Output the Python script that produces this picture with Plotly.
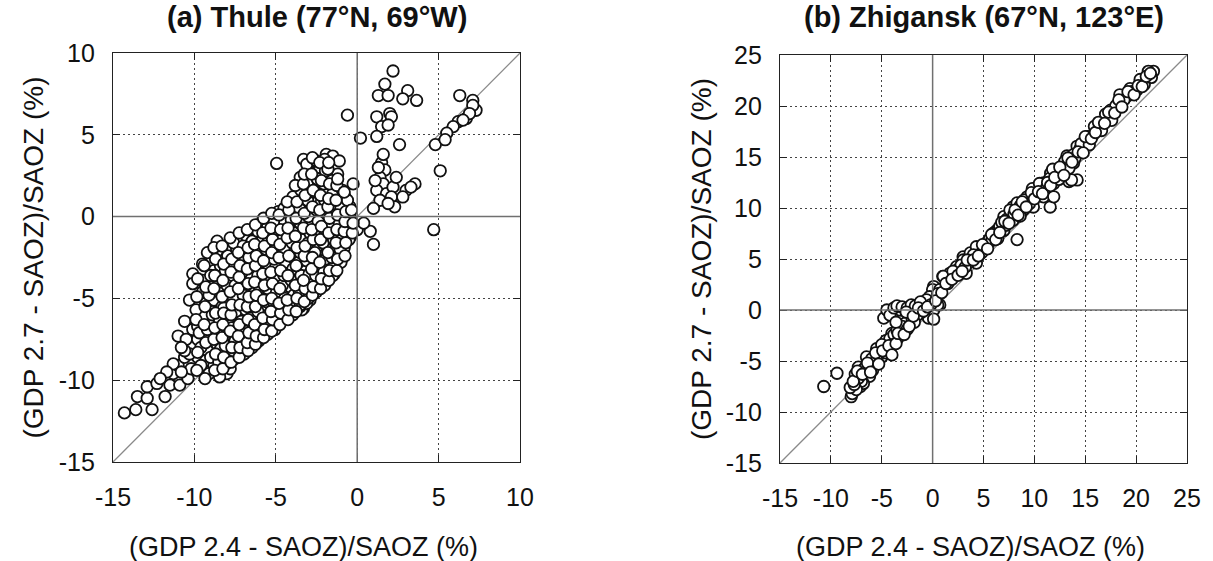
import plotly.graph_objects as go

# ---------------- data ----------------
thule_x = [
    -14.3, -13.6, -12.6, -13.5, -12.9, -12.9, -12.3, -11.8, -11.5, -11.3,
    -10.9, -11.0, -10.6, -10.4, -10.2, -11.0, -10.5, -9.8, -10.1, -10.3,
    -10.1, -9.5, -9.8, -9.2, -9.3, -8.8, -8.0, -7.8, -8.2, -9.1,
    -9.8, -9.5, -8.9, -9.9, -9.3, -8.8, -8.0, -8.5, -7.8, -7.2,
    -7.0, -7.8, -7.2, -6.6, -6.6, -6.0, -5.0, -5.7, -5.4, -4.8,
    -4.4, -3.6, -3.3, -3.1, -2.7, -3.8, -4.2, -5.4, -6.2, -6.8,
    -8.0, -8.8, -9.5, -10.1, -7.6, -7.4, -8.4, -8.9, -9.6, -8.6,
    -10.3, -11.3, -11.7, -12.1, -8.6, -6.8, -6.2, -5.8, -5.2, -4.6,
    -5.8, -6.5, -5.4, -4.5, -3.7, -2.9, -2.1, -1.3, -0.65, -1.9,
    -1.1, -7.4, -5.8, -4.7, -3.7, -2.5, -1.3, -1.5, -2.3, -3.3,
    -4.3, -5.6, -6.6, -7.2, -6.2, -5.15, -4.1, -3.0, -2.3, -2.9,
    -3.4, -4.95, -5.8, -6.8, -7.4, -6.2, -7.6,
    -4.95, -3.7, -2.7, -2.9, -1.8, -1.9, -1.2, -0.75, -0.25, -0.45,
    -2.9, -3.9, -4.85, -1.7, -2.2, -3.3, -1.9, -1.5, -1.1, -2.3,
    -3.0, -0.6, 0.2, -1.0, -0.8, -0.4, -1.4, -3.5, -3.1,
    2.2, 1.7, 1.3, 1.9, 3.1, 2.8, 3.65, 1.2, 2.0, 2.1,
    1.5, 1.9, 1.2, 2.6, 6.3, 7.1, 7.3, 6.7, 6.2, 5.9,
    5.5, 4.8, 5.4, 5.1, 4.7, 7.1, 6.9, 6.5, 1.5, 1.7,
    1.4, 1.6, 1.2, 1.8, 2.2, 2.4, 2.1, 1.4, 3.0, 3.55,
    3.3, 2.8, 2.3, 1.6, 1.3, 1.1, 1.0, 1.9, 0.0, 0.8,
    1.0, 0.4,
    -9.6, -9.7, -9.5,
    -9.1, -9.0, -9.2, -8.9, -9.1, -9.0, -9.2,
    -8.45, -8.5, -8.4, -8.6, -8.45, -8.3, -8.5, -8.4, -8.6,
    -8.05, -8.1, -7.9, -8.0, -8.2, -8.0, -8.1, -7.95,
    -7.55, -7.6, -7.5, -7.7, -7.45, -7.6, -7.5, -7.55, -7.4, -7.6,
    -6.95, -7.0, -6.9, -7.1, -6.85, -7.0, -6.95, -7.05, -6.9, -7.0,
    -6.45, -6.5, -6.4, -6.55, -6.45, -6.3, -6.5, -6.4, -6.6, -6.45,
    -6.05, -6.0, -6.1, -5.95, -6.05, -6.1, -5.9, -6.0, -6.1,
    -5.5, -5.55, -5.45, -5.6, -5.5, -5.4, -5.5, -5.6, -5.45, -5.5,
    -5.05, -5.0, -5.1, -4.95, -5.05, -5.0, -5.1, -4.95, -5.0, -5.1,
    -4.5, -4.55, -4.45, -4.6, -4.5, -4.4, -4.5, -4.6, -4.45, -4.5,
    -3.95, -4.0, -3.9, -4.05, -3.95, -3.85, -4.0, -3.9, -4.05, -3.95,
    -3.5, -3.55, -3.45, -3.6, -3.5, -3.4, -3.5, -3.55, -3.45, -3.5,
    -3.0, -3.05, -2.95, -3.1, -3.0, -2.9, -3.0, -3.05, -2.95, -3.0, -3.1,
    -2.5, -2.55, -2.45, -2.6, -2.5, -2.4, -2.5, -2.55, -2.45, -2.5,
    -2.0, -2.05, -1.95, -2.1, -2.0, -1.9, -2.0, -2.05, -1.95, -2.0,
    -1.5, -1.55, -1.45, -1.6, -1.5, -1.4, -1.5, -1.55,
    -1.0, -1.05, -0.95, -1.1, -1.0, -0.9,
    -0.5, -0.55, -0.45, -0.6,
    -10.6, -10.6, -10.8, -10.8,
    -9.85, -9.8, -9.9, -9.85, -9.8,
    -9.35, -9.3, -9.4, -9.35, -9.3, -9.4,
    -8.75, -8.7, -8.8, -8.75, -8.7, -8.8, -8.75, -8.7, -8.8,
    -8.25, -8.2, -8.3, -8.25, -8.2, -8.3, -8.25, -8.2, -8.3,
    -7.75, -7.7, -7.8, -7.75, -7.7, -7.8, -7.75, -7.7, -7.8,
    -7.25, -7.2, -7.3, -7.25, -7.2, -7.3, -7.25, -7.2, -7.3, -7.25,
    -6.7, -6.75, -6.65, -6.7, -6.75, -6.65, -6.7, -6.75, -6.65, -6.7, -6.75,
    -6.25, -6.2, -6.3, -6.25, -6.2, -6.3, -6.25, -6.2, -6.3, -6.25,
    -5.75, -5.7, -5.8, -5.75, -5.7, -5.8, -5.75, -5.7, -5.8, -5.75,
    -5.25, -5.2, -5.3, -5.25, -5.2, -5.3, -5.25, -5.2, -5.3, -5.25,
    -4.75, -4.7, -4.8, -4.75, -4.7, -4.8, -4.75, -4.7, -4.8,
    -4.25, -4.2, -4.3, -4.25, -4.2, -4.3, -4.25, -4.2, -4.3,
    -3.75, -3.7, -3.8, -3.75, -3.7, -3.8, -3.75, -3.7, -3.8,
    -3.25, -3.2, -3.3, -3.25, -3.2, -3.3, -3.25, -3.2, -3.3, -3.25,
    -2.75, -2.7, -2.8, -2.75, -2.7, -2.8, -2.75, -2.7, -2.8, -2.75,
    -2.25, -2.2, -2.3, -2.25, -2.2, -2.3, -2.25, -2.2, -2.3,
    -1.75, -1.7, -1.8, -1.75, -1.7, -1.8, -1.75, -1.7, -1.8, -1.75,
    -1.25, -1.2, -1.3, -1.25, -1.2, -1.3, -1.25, -1.2,
    -0.75, -0.7, -0.8, -0.75, -0.7, -0.8,
    -0.3, -0.25, -0.35,
]
thule_y = [
    -12.0, -11.8, -11.8, -11.0, -11.1, -10.4, -10.2, -11.0, -10.3, -9.6,
    -10.3, -9.1, -8.6, -9.9, -9.3, -7.3, -7.5, -7.5, -6.9, -5.1,
    -3.5, -2.9, -8.6, -8.2, -8.8, -9.1, -9.6, -9.3, -8.4, -7.4,
    -6.7, -6.1, -5.8, -5.7, -5.3, -5.1, -5.1, -4.6, -4.5, -4.7,
    -5.3, -6.3, -6.1, -5.9, -6.7, -6.3, -6.4, -5.6, -4.7, -4.1,
    -4.7, -5.1, -5.6, -4.3, -3.7, -3.9, -3.3, -3.2, -3.3, -2.9,
    -2.7, -3.3, -3.9, -4.1, -3.7, -7.3, -6.9, -6.5, -8.0, -7.8,
    -8.4, -9.0, -9.5, -9.9, -1.5, -1.2, -2.0, -0.8, -0.4, 0.0,
    -0.2, -1.6, -1.2, -0.6, -0.9, -0.6, -0.5, -0.35, -0.15, -1.1,
    -1.2, -2.65, -2.45, -2.2, -2.0, -1.9, -1.8, -3.1, -3.3, -3.3,
    -3.1, -3.3, -3.5, -3.9, -4.3, -4.5, -4.3, -3.8, -3.9, -5.1,
    -5.7, -6.3, -5.7, -5.5, -6.7, -7.1, -7.7,
    3.25, 0.8, 1.2, 1.9, 1.7, 2.5, 2.6, 1.2, 2.0, 0.6,
    0.4, 0.4, 0.3, 0.4, 0.9, 3.5, 3.8, 3.7, 3.4, 3.0,
    2.8, 6.2, 4.8, -2.7, -1.9, -1.2, -3.5, -5.5, -5.3,
    8.9, 8.1, 7.4, 7.4, 7.7, 7.2, 7.1, 6.1, 6.3, 6.1,
    5.5, 5.6, 4.9, 4.4, 7.4, 7.1, 6.5, 6.0, 5.8, 5.5,
    5.1, 4.4, 4.7, 2.8, -0.8, 6.8, 6.3, 5.9, 3.3, 2.85,
    2.4, 2.0, 1.6, 1.4, 1.8, 2.4, 1.2, 1.0, 1.6, 2.0,
    1.8, 1.2, 0.6, 3.8, 3.0, 2.2, 0.5, 0.8, -0.8, -0.9,
    -1.7, -0.4,
    -9.1, -7.1, -4.6,
    -9.6, -8.6, -6.9, -6.0, -4.8, -3.6, -2.2,
    -9.8, -8.9, -8.1, -7.2, -6.4, -5.5, -4.0, -3.0, -2.1,
    -9.0, -7.9, -7.0, -6.0, -5.6, -4.2, -3.3, -2.4,
    -8.7, -8.2, -7.6, -6.8, -5.8, -5.0, -4.2, -3.0, -2.0, -1.6,
    -8.4, -7.6, -7.0, -6.4, -5.7, -4.8, -4.0, -3.4, -2.6, -1.8,
    -8.0, -7.4, -6.9, -6.2, -5.2, -4.6, -3.8, -2.9, -2.2, -1.5,
    -7.6, -7.0, -5.8, -5.0, -4.2, -3.6, -2.8, -1.9, -0.9,
    -7.2, -6.6, -6.0, -5.2, -4.4, -3.8, -2.9, -2.0, -1.5, -0.6,
    -6.9, -6.0, -5.4, -4.6, -3.9, -3.0, -2.6, -1.8, -1.0, -0.3,
    -6.2, -5.6, -5.0, -4.2, -3.6, -2.8, -2.0, -1.4, -0.4, 0.5,
    -6.0, -5.4, -4.8, -3.9, -3.2, -2.6, -1.6, -1.0, -0.2, 1.2,
    -5.4, -4.6, -3.6, -2.8, -2.2, -1.4, -0.4, 0.5, 1.6, 2.4,
    -5.0, -4.4, -3.5, -2.7, -1.6, -1.0, 0.0, 1.0, 1.5, 2.2, 3.2,
    -4.6, -3.6, -3.0, -2.2, -1.2, -0.3, 0.4, 1.5, 2.3, 3.4,
    -4.2, -3.4, -2.6, -1.6, -0.8, 0.2, 1.0, 2.0, 2.8, 3.5,
    -3.6, -2.5, -1.4, -0.6, 0.2, 0.8, 1.4, 2.2,
    -2.8, -2.0, -1.0, -0.4, 0.6, 1.6,
    -1.4, -0.6, 0.0, 1.0,
    -8.2, -6.4, -9.5, -8.0,
    -9.4, -8.3, -6.3, -4.9, -3.8,
    -9.9, -7.7, -6.6, -5.5, -4.3, -3.0,
    -9.4, -8.4, -7.5, -6.8, -5.9, -4.4, -3.6, -2.6, -1.9,
    -9.3, -8.6, -7.4, -6.6, -5.9, -4.9, -3.9, -2.9, -1.8,
    -8.9, -8.0, -7.0, -6.0, -5.4, -4.6, -3.4, -2.6, -1.3,
    -8.6, -8.0, -7.3, -6.6, -5.4, -4.4, -3.7, -3.0, -2.2, -1.0,
    -8.2, -7.7, -7.1, -6.3, -5.5, -4.9, -4.1, -3.2, -2.5, -1.9, -0.8,
    -7.8, -7.3, -6.6, -5.5, -4.8, -4.0, -3.0, -2.4, -1.7, -0.5,
    -7.4, -6.9, -6.2, -5.1, -4.2, -3.5, -2.7, -1.8, -1.0, -0.1,
    -7.0, -6.3, -5.8, -5.0, -4.1, -3.4, -2.2, -1.4, -0.7, 0.2,
    -6.6, -5.9, -5.3, -4.4, -3.3, -2.5, -1.7, -0.8, 0.1,
    -6.3, -5.7, -5.1, -3.6, -2.4, -1.3, -0.7, 0.4, 0.9,
    -5.8, -5.0, -4.2, -3.0, -1.9, -1.2, -0.1, 0.9, 1.9,
    -5.2, -4.4, -3.9, -2.4, -1.8, -0.7, 0.2, 1.3, 2.0, 2.6,
    -4.8, -4.3, -3.2, -2.5, -1.4, -0.8, 0.6, 1.6, 2.6, 3.6,
    -4.4, -3.8, -2.8, -1.4, -0.6, 0.4, 1.3, 2.2, 3.3,
    -3.9, -3.3, -2.2, -1.0, -0.1, 0.6, 1.1, 2.0, 2.9, 3.3,
    -3.3, -2.6, -1.6, -0.8, 0.1, 1.0, 1.9, 2.3,
    -2.4, -1.6, -0.9, -0.3, 0.3, 1.5,
    -1.0, -0.4, 0.4,
]

zhig_x = [
    -10.7, -9.4, -8.0, -7.9, -7.1, -7.3, -6.5, -5.5, -5.2, -4.5,
    -4.0, -3.5, -3.2, -2.7, -4.8, -4.2, -3.2, -2.2, -0.9, 0.1,
    0.7, -0.4, 0.1, 1.0, 1.7, 2.35, 3.0, -2.9, -6.2, -6.8,
    -7.6, -7.0, -6.8, -6.3, -6.0, -5.7, -5.4, -5.0, -4.8, -4.6,
    -4.4, -4.2, -3.8, -3.5, -3.0, -2.5, -4.5, -4.2, -3.8, -3.5,
    -3.0, -2.5, -2.1, -1.7, -1.2, -0.7, 0.1, 0.1, 0.5, 0.0,
    -0.3, -1.5, -2.0, -5.9, -7.5, -3.9,
    -0.6, 0.7, 1.05, 2.4, 3.0, 3.7, 4.65, 6.0, 7.0, 7.9,
    8.3, 8.9, 9.9, 10.9, 11.55, 11.9, 12.5, 13.85, 14.2, 14.7,
    6.3, 3.3, 4.3, 7.9, 7.0, 9.6, 10.6,
    2.05, 2.7, 3.0, 3.7, 3.5, 4.3, 5.3, 6.0, 6.6, 7.3,
    7.6, 8.3, 8.6, 9.3, 10.25, 10.9, 11.6, 11.9, 13.4, 13.2,
    14.2, 15.2, 16.15, 17.1, 17.5, 18.4, 19.1, 20.1, 20.4, 21.2,
    21.7,
    21.2, 20.4, 19.4, 18.4, 18.1, 17.1, 16.4, 15.8, 15.1, 14.5,
    13.8, 12.8, 12.1, 11.5, 10.8, 9.8, 13.65,
    4.8, 5.6, 6.4, 7.2, 8.0, 8.6, 9.0, 9.5, 10.2, 10.5,
    11.2, 11.8, 12.4, 13.0, 13.4, 14.0, 14.6, 15.4, 15.9, 16.6,
    17.0, 17.6, 18.0, 18.8, 19.6, 20.8, 21.5, 5.0, 5.8, 6.8,
    2.8, 1.5, 2.0, 4.0, 3.2, 0.5, -0.2, -1.2, -2.6, -3.6,
    -5.0, -6.0, -6.6, -7.3, -5.5, -4.6, -3.3, -1.8, -8.1, -7.7,
    -7.8, -7.4, -6.9, -6.4, -6.1, -5.6, -5.3, -4.9, -4.3, -4.0,
    -3.6, -3.4, -2.8, -2.3, -1.9, -1.4, -0.9, -0.5, 0.3, 0.9,
    1.3, 1.9, 2.5, 2.9, 3.4, 4.0, 4.5, 4.9, 5.4, 5.8,
    6.2, 6.6, 7.1, 7.5, 8.1, 8.4, 8.8, 9.2, 9.7, 10.0,
    10.4, 10.8, 11.3, 11.6, 12.0, 12.5, 12.9, 13.3, 13.7, 14.3,
    14.8, 15.0, 15.6, 16.0, 16.3, 16.9, 17.3, 17.9, 18.3, 18.6,
    19.2, 19.8, 20.2, 20.6, 21.0, 21.4,
]
zhig_y = [
    -7.5, -6.2, -8.5, -8.2, -7.5, -5.6, -4.6, -3.8, -4.8, -3.3,
    -2.3, -2.9, -1.8, -1.3, -0.8, -0.2, 0.0, 0.0, 0.5, 1.0,
    0.5, -0.8, 2.3, 3.3, 3.6, 4.25, 5.2, -2.0, -6.5, -7.2,
    -6.3, -7.0, -5.8, -6.0, -5.3, -5.0, -4.4, -4.6, -3.6, -3.0,
    -4.0, -2.8, -2.4, -2.0, -1.6, -1.9, 0.0, -0.5, 0.2, 0.4,
    0.3, 0.2, 0.5, 0.4, -0.3, 0.85, 0.0, -0.9, 0.5, 2.0,
    1.3, -0.5, -1.0, -5.9, -7.8, -3.4,
    1.0, 2.0, 3.3, 3.9, 4.6, 5.2, 5.9, 7.2, 7.8, 8.8,
    6.9, 9.8, 10.1, 11.1, 10.1, 12.4, 13.4, 14.4, 12.75, 15.7,
    7.8, 3.6, 4.6, 10.1, 9.15, 11.1, 11.9,
    3.3, 3.95, 4.9, 5.6, 4.6, 6.2, 6.6, 7.55, 8.2, 8.9,
    9.8, 10.5, 9.2, 11.1, 11.8, 12.45, 13.4, 11.1, 12.6, 15.1,
    16.05, 17.0, 18.0, 18.7, 19.6, 20.3, 20.95, 21.6, 22.4, 23.2,
    23.4,
    23.4, 22.6, 21.7, 21.1, 20.1, 18.8, 18.0, 17.2, 16.5, 15.85,
    15.2, 14.2, 13.55, 12.9, 12.25, 11.9, 12.75,
    5.6, 7.0, 7.0, 8.3, 9.4, 10.2, 10.8, 10.4, 11.4, 12.4,
    12.0, 13.8, 12.8, 14.6, 13.9, 14.9, 16.3, 16.2, 18.0, 17.6,
    19.2, 18.6, 20.0, 20.6, 21.4, 22.1, 22.8, 6.2, 6.8, 8.6,
    4.4, 2.6, 3.8, 5.4, 4.2, 1.6, 0.5, 0.8, -0.2, -1.2,
    -3.4, -4.8, -5.6, -6.7, -4.9, -4.2, -2.6, -1.2, -7.6, -7.3,
    -7.0, -6.0, -6.3, -5.2, -6.1, -4.2, -5.3, -4.0, -3.5, -4.4,
    -3.3, -2.3, -2.4, -1.6, -0.6, 0.2, -0.1, 0.3, 0.9, 1.7,
    2.6, 3.0, 3.4, 3.8, 4.9, 4.9, 5.3, 6.4, 6.0, 7.4,
    6.9, 7.6, 8.7, 8.5, 9.8, 9.3, 10.6, 10.1, 11.5, 10.9,
    11.6, 11.4, 12.5, 12.2, 13.0, 14.0, 13.2, 14.9, 14.5, 15.5,
    15.4, 17.0, 16.8, 17.4, 18.4, 18.3, 19.4, 19.3, 20.6, 19.9,
    21.4, 21.1, 22.0, 21.9, 22.9, 23.2,
]

panel_titles = ["(a) Thule (77°N, 69°W)", "(b) Zhigansk (67°N, 123°E)"]
x_title = "(GDP 2.4 - SAOZ)/SAOZ (%)"
y_title = "(GDP 2.7 - SAOZ)/SAOZ (%)"
thule_range = [-15, 10]
zhig_range = [-15, 25]
thule_ticks = [-15, -10, -5, 0, 5, 10]
thule_ticktext = ["-15", "-10", "-5", "0", "5", "10"]
zhig_ticks = [-15, -10, -5, 0, 5, 10, 15, 20, 25]
zhig_ticktext = ["-15", "-10", "-5", "0", "5", "10", "15", "20", "25"]

# ---------------- figure ----------------
W, H = 1213, 561
FONT = "Liberation Sans, Arial, Helvetica, sans-serif"

fig = go.Figure()

marker = dict(size=11.5, color="white", symbol="circle",
              line=dict(color="#111111", width=1.8))
diag = dict(color="#8a8a8a", width=1.3)

fig.add_trace(go.Scatter(x=thule_range, y=thule_range, mode="lines",
                         line=diag, xaxis="x", yaxis="y", hoverinfo="skip"))
fig.add_trace(go.Scatter(x=thule_x, y=thule_y, mode="markers",
                         marker=marker, xaxis="x", yaxis="y"))
fig.add_trace(go.Scatter(x=zhig_range, y=zhig_range, mode="lines",
                         line=diag, xaxis="x2", yaxis="y2", hoverinfo="skip"))
fig.add_trace(go.Scatter(x=zhig_x, y=zhig_y, mode="markers",
                         marker=marker, xaxis="x2", yaxis="y2"))

def axis(rng, ticks, ticktext, domain, anchor, is_x):
    return dict(
        range=rng, domain=domain, anchor=anchor,
        tickmode="array", tickvals=ticks, ticktext=ticktext,
        showline=True, linecolor="#222222", linewidth=1.3, mirror="ticks",
        ticks="inside", ticklen=7, tickwidth=1.2, tickcolor="#222222",
        showgrid=True, gridcolor="#444444", gridwidth=1, griddash="2px,3px",
        zeroline=False, automargin=False,
        tickfont=dict(family=FONT, size=25, color="#111111"),
        ticklabelstandoff=13 if is_x else 12,
        fixedrange=True,
    )

L = dict(x=[113 / W, 520 / W], y=[1 - 462 / H, 1 - 53 / H])
R = dict(x=[780 / W, 1187 / W], y=[1 - 463 / H, 1 - 55 / H])

fig.update_layout(
    width=W, height=H,
    margin=dict(l=0, r=0, t=0, b=0, autoexpand=False),
    paper_bgcolor="white", plot_bgcolor="white",
    showlegend=False,
    xaxis=axis(thule_range, thule_ticks, thule_ticktext, L["x"], "y", True),
    yaxis=axis(thule_range, thule_ticks, thule_ticktext, L["y"], "x", False),
    xaxis2=axis(zhig_range, zhig_ticks, zhig_ticktext, R["x"], "y2", True),
    yaxis2=axis(zhig_range, zhig_ticks, zhig_ticktext, R["y"], "x2", False),
)

# zero reference lines (solid) drawn above the markers
zero = dict(color="#707070", width=1.5)
for xr, yr, rng in (("x", "y", thule_range), ("x2", "y2", zhig_range)):
    fig.add_shape(type="line", xref=xr, yref=yr, x0=rng[0], x1=rng[1], y0=0, y1=0,
                  line=zero, layer="above")
    fig.add_shape(type="line", xref=xr, yref=yr, x0=0, x1=0, y0=rng[0], y1=rng[1],
                  line=zero, layer="above")

ann = []
for dom, title, ytx in ((L, panel_titles[0], 33), (R, panel_titles[1], 701)):
    cx = (dom["x"][0] + dom["x"][1]) / 2
    ann.append(dict(text="<b>" + title + "</b>", x=cx, y=1 - 17 / H, xref="paper", yref="paper",
                    xanchor="center", yanchor="middle", showarrow=False,
                    font=dict(family=FONT, size=29, color="#111111")))
    ann.append(dict(text=x_title, x=cx - 13 / W, y=1 - 547 / H, xref="paper", yref="paper",
                    xanchor="center", yanchor="middle", showarrow=False,
                    font=dict(family=FONT, size=27, color="#111111")))
    ann.append(dict(text=y_title, x=ytx / W, y=(dom["y"][0] + dom["y"][1]) / 2,
                    xref="paper", yref="paper", textangle=-90,
                    xanchor="center", yanchor="middle", showarrow=False,
                    font=dict(family=FONT, size=28, color="#111111")))
fig.update_layout(annotations=ann)

fig.write_html("out.html")
